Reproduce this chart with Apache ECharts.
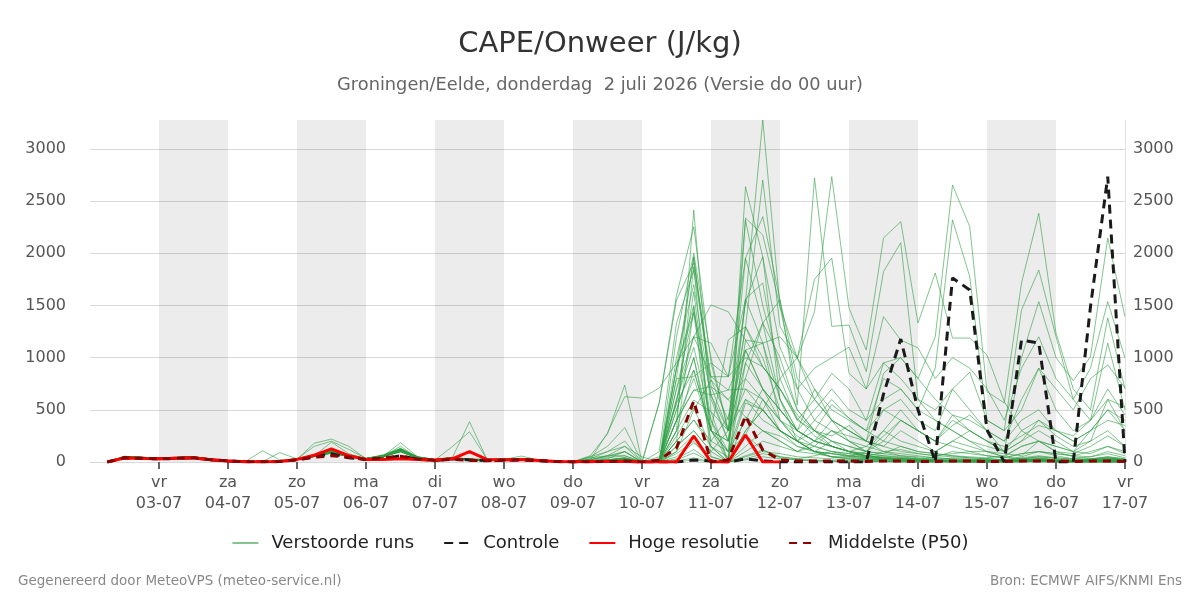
<!DOCTYPE html>
<html><head><meta charset="utf-8">
<script src="https://cdn.jsdelivr.net/npm/echarts@6/dist/echarts.min.js"></script>
<style>html,body{margin:0;padding:0;background:#fff}#chart{width:1200px;height:600px}</style>
</head><body><div id="chart"></div>
<script>
// Tick labels (one per day, 02-07 .. 17-07)
const tickDays  = ['do','vr','za','zo','ma','di','wo','do','vr','za','zo','ma','di','wo','do','vr'];
const tickDates = ['02-07','03-07','04-07','05-07','06-07','07-07','08-07','09-07','10-07','11-07','12-07','13-07','14-07','15-07','16-07','17-07'];
// Shaded days (index into tickDates)
const shadedDays = [1,3,5,7,9,11,13];
// Forecast valid times: hours after 02-07 00:00, every 6 h from 02-07 06:00
const leadHours = Array.from({length:60},(_,i)=>6+6*i);

// Perturbed ensemble runs (J/kg), grouped per day
const runs = [
[0,50,42, 38,42,48,26, 12,4,3,6, 28,60,100,70, 32,60,110,45, 22,40,25,20, 28,32,20,5, 2,20,280,626, 613,709,950,1200, 1505,1440,1169,913, 700,420,250,150, 100,60,40,30, 20,10,10,20, 30,20,10,30, 20,10,20,30, 20],
[0,45,38, 32,38,44,22, 12,3,108,20, 25,70,110,60, 30,55,95,40, 20,35,20,18, 25,30,20,5, 2,60,270,738, 0,0,300,2415, 482,0,2639,1968, 600,200,100,50, 30,20,10,0, 0,0,0,0, 0,0,0,20, 10,0,0,0, 0],
[0,55,45, 40,42,50,28, 15,5,4,90, 30,150,200,120, 35,70,130,50, 25,45,30,22, 30,35,22,6, 3,50,150,330, 0,570,1600,2255, 949,300,1297,2703, 1300,997,1440,2735, 1476,1073,2147,2303, 1332,1812,1188,1188, 1025,580,300,200, 100,50,30,50, 30],
[0,48,40, 36,40,46,25, 12,4,2,5, 25,180,220,150, 30,60,100,40, 20,38,22,20, 25,30,20,5, 2,30,100,200, 0,0,800,1968, 722,300,1955,2351, 1553,546,2722,1300, 1313,866,1824,2102, 600,400,300,200, 100,50,30,20, 10,20,30,50, 30],
[0,52,44, 38,44,50,26, 14,5,3,6, 26,60,190,80, 32,58,185,50, 22,40,24,20, 26,32,20,5, 2,40,60,150, 0,0,565,1632, 300,100,1562,1716, 800,400,600,850, 700,400,950,1000, 800,1200,2655,2255, 674,566,1715,2384, 1236,700,500,1380, 700],
[0,46,40, 34,40,45,24, 12,4,2,5, 24,55,90,55, 30,55,150,40, 20,147,290,30, 25,30,18,5, 2,10,30,100, 0,0,400,1872, 147,0,1169,1140, 400,200,300,550, 420,300,800,700, 500,900,2320,1776, 400,300,1457,1840, 1201,600,400,1140, 500],
[0,44,38, 34,38,44,24, 12,3,2,5, 24,55,95,55, 28,52,130,42, 20,40,386,30, 25,57,20,5, 2,20,60,60, 0,0,200,1489, 51,0,949,1332, 600,300,200,400, 300,200,500,600, 400,300,700,500, 300,100,1000,1537, 1000,780,1009,2147, 1393],
[0,50,40, 36,40,46,26, 12,4,3,5, 26,60,100,60, 30,60,120,45, 22,40,26,20, 28,30,20,6, 3,10,20,40, 0,570,1553,1907, 818,690,1073,1140, 600,300,700,400, 200,100,300,500, 300,200,400,300, 200,100,200,300, 200,100,300,500, 300],
[0,47,41, 35,41,47,25, 13,4,3,6, 27,58,105,62, 31,57,115,44, 21,39,23,19, 27,31,19,5, 2,15,40,60, 0,100,1332,1840, 786,400,1537,1968, 1100,700,900,1000, 1100,700,1393,1169, 1093,800,1000,900, 700,400,900,1200, 800,600,900,1537, 997],
[0,53,43, 37,43,49,27, 14,5,4,6, 27,62,105,65, 33,62,125,47, 23,42,27,21, 27,33,21,6, 3,25,50,100, 0,0,900,1440, 642,300,2339,2176, 1489,700,400,300, 200,150,100,60, 40,30,20,10, 10,20,50,100, 60,30,20,40, 20],
[0,49,41, 35,41,47,25, 13,4,3,5, 25,58,98,58, 31,58,112,43, 21,39,24,19, 26,31,19,5, 2,10,20,30, 0,0,600,1201, 1140,818,1955,1332, 1000,500,300,200, 150,100,80,60, 50,40,30,20, 20,10,30,40, 20,10,10,20, 10],
[0,46,39, 34,39,45,23, 12,3,2,5, 24,56,92,56, 29,56,108,41, 20,37,22,18, 25,29,18,4, 2,8,20,40, 0,50,565,882, 300,1169,1297,913, 700,450,300,150, 100,80,60,50, 30,20,20,10, 10,10,20,30, 20,10,20,40, 20],
[0,51,43, 37,43,48,26, 13,4,3,6, 27,60,102,62, 32,60,118,44, 22,41,25,20, 27,32,20,5, 2,5,10,20, 0,0,800,818, 949,818,1562,1140, 1200,997,1750,1955, 850,700,950,800, 600,500,700,860, 400,300,500,900, 700,500,800,930, 709],
[0,45,39, 33,39,44,23, 12,3,2,4, 23,54,88,54, 29,54,105,40, 19,36,21,18, 24,29,18,4, 1,5,10,20, 0,0,400,690, 722,600,800,1332, 1553,800,600,400, 300,200,100,80, 60,40,30,20, 20,10,10,20, 10,10,10,20, 10],
[0,48,42, 36,42,46,25, 13,4,3,5, 25,57,96,57, 30,57,110,43, 21,38,23,19, 26,30,19,5, 2,5,15,30, 0,0,300,594, 482,300,949,700, 500,300,200,150, 100,60,40,30, 20,20,10,10, 10,10,20,20, 10,10,20,30, 20],
[0,50,42, 36,42,47,25, 13,4,3,5, 26,58,100,60, 31,58,115,44, 21,39,24,19, 26,31,20,5, 2,5,10,20, 0,0,700,1428, 307,0,434,300, 200,100,80,50, 40,30,20,10, 10,10,10,0, 0,10,20,10, 10,0,0,10, 0],
[0,44,38, 33,38,43,22, 11,3,2,4, 22,52,85,52, 28,52,100,38, 18,35,20,17, 23,28,17,4, 1,5,10,10, 0,0,200,403, 147,0,2320,1500, 900,500,300,200, 100,50,30,20, 10,10,0,0, 0,0,10,20, 10,0,0,0, 0],
[0,52,44, 38,44,49,27, 14,5,3,6, 27,61,104,63, 33,61,120,46, 22,41,26,20, 27,33,21,6, 3,10,20,40, 0,0,900,1955, 642,200,1537,3278, 1489,997,600,400, 300,200,150,100, 80,60,50,40, 30,20,30,50, 40,30,20,30, 20],
[0,47,40, 35,40,46,24, 12,4,2,5, 24,56,94,56, 30,56,108,42, 20,37,22,18, 25,30,18,5, 2,8,15,30, 0,0,500,1000, 300,200,1073,700, 400,200,100,80, 60,40,30,20, 10,10,10,10, 10,20,20,30, 20,10,10,20, 10],
[0,50,41, 36,41,46,25, 12,4,3,5, 25,58,98,58, 31,58,112,43, 21,38,23,19, 26,31,19,5, 2,5,10,20, 0,0,250,518, 147,50,565,500, 300,150,100,50, 30,20,10,10, 0,0,0,0, 0,0,0,10, 0,0,0,0, 0],
[0,46,40, 34,40,45,24, 12,3,2,5, 24,55,90,55, 30,55,105,41, 20,37,22,18, 25,29,18,5, 2,5,10,10, 0,0,100,259, 19,0,300,500, 300,200,400,600, 420,300,500,400, 300,200,450,300, 200,100,300,400, 250,150,200,600, 530],
[0,49,42, 36,41,47,25, 13,4,3,5, 25,57,97,57, 31,57,112,43, 21,38,24,19, 26,31,19,5, 2,5,10,15, 0,0,50,182, 51,0,259,115, 50,30,20,10, 10,10,0,0, 0,0,0,0, 0,0,0,0, 0,0,0,0, 0],
[0,51,42, 37,42,48,26, 13,4,3,6, 26,59,101,61, 32,59,116,44, 22,40,25,20, 27,32,20,5, 2,5,8,15, 0,0,20,86, 0,0,150,300, 200,100,150,300, 200,100,250,400, 300,200,350,450, 300,200,400,500, 300,250,400,700, 450],
[0,45,38, 33,38,43,22, 11,3,2,4, 22,52,86,52, 28,52,100,38, 18,35,20,17, 23,28,17,4, 1,3,5,10, 0,0,0,20, 0,0,50,100, 80,50,40,30, 20,20,30,40, 30,20,40,30, 20,10,20,30, 20,10,30,40, 20],
[0,48,40, 35,40,46,24, 12,4,3,5, 25,57,96,57, 30,57,110,42, 21,38,23,19, 26,30,19,5, 2,5,10,30, 0,0,700,1201, 818,818,1000,913, 700,400,300,250, 350,200,850,1000, 800,600,450,400, 300,200,600,900, 500,300,400,600, 300],
[0,50,43, 37,43,48,26, 13,4,3,6, 26,60,102,62, 32,60,118,45, 22,40,25,20, 27,32,20,5, 2,5,10,20, 0,0,400,690, 642,690,700,500, 800,1000,700,500, 400,300,200,400, 300,200,150,100, 100,80,60,200, 150,100,200,300, 150],
[0,47,40, 34,40,45,24, 12,3,2,5, 24,55,92,55, 30,55,107,41, 20,37,22,18, 25,29,18,4, 2,5,8,10, 0,0,100,498, 786,594,434,300, 250,150,100,200, 150,100,80,150, 100,80,60,40, 30,20,40,60, 40,30,50,100, 60],
[0,53,44, 38,44,50,27, 14,5,3,6, 27,62,106,64, 33,62,122,47, 23,42,27,21, 28,33,21,6, 3,8,15,25, 0,0,300,882, 300,200,800,600, 400,250,150,100, 80,60,50,30, 20,10,10,10, 10,10,10,20, 10,10,10,20, 10],
[0,46,39, 34,39,45,23, 12,3,2,5, 23,54,90,54, 29,54,104,40, 19,36,21,18, 24,29,18,4, 1,4,8,12, 0,0,30,120, 0,0,60,115, 40,20,10,10, 0,0,0,0, 0,0,0,0, 0,0,0,0, 0,0,0,0, 0],
[0,49,41, 35,41,47,25, 13,4,3,5, 25,58,98,58, 31,58,113,43, 21,38,24,19, 26,31,19,5, 2,5,10,20, 0,0,600,1100, 400,0,300,500, 300,200,100,50, 50,100,200,150, 100,80,60,50, 40,60,150,200, 150,100,80,150, 100],
[0,48,41, 35,41,46,25, 12,4,3,5, 25,57,96,57, 30,57,110,42, 21,38,23,19, 26,30,19,5, 2,50,100,150, 50,0,150,300, 100,300,600,400, 300,200,150,100, 60,40,30,20, 10,10,10,10, 10,10,20,20, 10,10,10,20, 10],
[0,51,43, 37,43,48,26, 13,4,3,6, 26,60,103,62, 32,60,118,45, 22,40,25,20, 27,32,20,5, 2,20,60,100, 0,0,200,403, 200,434,1073,700, 500,300,200,150, 100,150,300,200, 150,100,200,300, 200,150,250,350, 300,200,300,400, 350],
[0,45,39, 33,39,44,23, 11,3,2,4, 23,53,87,53, 29,53,102,39, 19,36,21,17, 24,28,17,4, 1,3,5,10, 0,0,500,1000, 200,100,259,600, 300,200,100,80, 60,50,40,30, 20,50,100,80, 60,40,80,100, 80,60,50,80, 40],
[0,50,42, 36,42,47,25, 13,4,3,5, 26,59,100,60, 31,59,115,44, 21,39,24,19, 26,31,20,5, 2,5,10,15, 0,0,150,300, 100,0,100,200, 150,100,200,300, 250,200,150,300, 200,100,200,150, 100,50,150,200, 100,80,150,250, 150],
[0,47,40, 34,40,45,24, 12,4,2,5, 24,56,93,56, 30,56,106,41, 20,37,22,18, 25,30,18,5, 2,4,8,10, 0,0,80,200, 0,0,20,50, 30,20,10,10, 0,0,10,0, 0,0,10,0, 0,0,10,0, 0,0,10,0, 0],
[0,52,43, 37,43,49,26, 14,5,3,6, 27,61,104,63, 32,61,120,46, 22,41,26,20, 27,33,21,6, 3,6,10,15, 0,0,1000,1700, 600,200,1297,1000, 500,300,200,150, 100,80,60,40, 30,20,10,10, 10,20,30,50, 30,20,10,20, 10],
[0,46,39, 34,39,44,23, 12,3,2,5, 23,54,89,54, 29,54,103,40, 19,36,21,18, 24,29,18,4, 1,4,8,12, 0,0,1200,2000, 1000,300,700,600, 400,300,200,150, 100,60,40,30, 20,10,10,0, 0,10,20,10, 10,0,10,0, 0],
[0,49,41, 35,41,47,25, 13,4,3,5, 25,58,99,59, 31,58,114,43, 21,38,24,19, 26,31,19,5, 2,5,10,15, 0,0,900,1500, 400,100,600,500, 300,200,100,80, 50,30,20,10, 10,10,0,0, 0,0,0,10, 0,0,0,0, 0],
[0,44,38, 33,38,43,22, 11,3,2,4, 22,52,85,52, 28,52,100,38, 18,35,20,17, 23,28,17,4, 1,3,5,8, 0,0,10,40, 0,0,30,80, 50,30,60,100, 80,50,100,120, 80,60,80,100, 60,40,80,100, 80,60,100,150, 80],
[0,53,45, 39,45,50,28, 14,5,4,6, 28,63,108,65, 34,63,125,48, 23,43,28,22, 28,34,22,6, 3,10,20,30, 0,0,400,800, 300,100,400,700, 500,300,500,700, 500,400,600,700, 500,400,300,200, 150,100,200,400, 300,200,300,500, 400]
];

// Control run
const control = [0,40,35, 30,35,40,20, 10,3,2,5, 20,50,80,40, 25,30,60,25, 15,30,20,15, 15,20,12,4, 1,2,5,5, 0,0,0,20, 10,0,30,10, 0,0,0,0, 0,0,650,1179, 500,0,1764,1649, 307,0,1169,1141, 0,0,1490,2735, 0];
// High resolution run (to 12-07 00 UTC)
const hres = [0,38,33, 32,36,40,22, 10,3,2,5, 25,65,125,60, 25,25,30,25, 20,30,100,25, 20,25,15,5, 2,5,5,5, 0,0,0,249, 0,0,259,0, 0];
// Median of the ensemble
const p50 = [0,40,35, 30,35,40,22, 10,3,2,4, 22,45,60,45, 25,40,55,30, 15,25,15,12, 18,22,15,4, 1,2,5,10, 0,20,134,585, 0,20,441,115, 20,10,10,10, 10,5,10,10, 5,5,10,10, 5,5,10,10, 10,5,10,10, 5];

const FONT = 'DejaVu Sans';
const toXY = arr => arr.map((v,i)=>[leadHours[i], v]);
let yMax = 0;
[...runs, control, hres, p50].forEach(a=>a.forEach(v=>{ if (v>yMax) yMax=v; }));

const series = [];
series.push({
  type:'line', data:[[0,0],[360,0]], silent:true, symbol:'none',
  lineStyle:{width:0, opacity:0}, z:1,
  markArea:{silent:true, itemStyle:{color:'rgba(0,0,0,0.075)'},
    data: shadedDays.map(d=>[{xAxis:d*24},{xAxis:(d+1)*24}])}
});
runs.forEach(r=>series.push({
  name:'Verstoorde runs', type:'line', data:toXY(r), symbol:'none', silent:true,
  lineStyle:{width:1, color:'#2f9e44', opacity:0.6}, itemStyle:{color:'#2f9e44'}, z:2
}));
series.push({name:'Controle', type:'line', data:toXY(control), symbol:'none', silent:true,
  lineStyle:{width:3, color:'#1a1a1a', type:[9,6]}, itemStyle:{color:'#1a1a1a'}, z:4});
series.push({name:'Hoge resolutie', type:'line', data:toXY(hres), symbol:'none', silent:true,
  lineStyle:{width:3, color:'#ff0000'}, itemStyle:{color:'#ff0000'}, z:5});
series.push({name:'Middelste (P50)', type:'line', data:toXY(p50), symbol:'none', silent:true,
  lineStyle:{width:3, color:'#8b0000', type:[8,6]}, itemStyle:{color:'#8b0000'}, z:6});

const yLabel = v => (v % 500 === 0 ? String(v) : '');
const chart = echarts.init(document.getElementById('chart'), null, {renderer:'canvas'});
chart.setOption({
  animation:false,
  backgroundColor:'#ffffff',
  textStyle:{fontFamily:FONT},
  title:[
    {text:'CAPE/Onweer (J/kg)', left:'center', top:25, textStyle:{fontFamily:FONT, fontSize:29, fontWeight:'normal', color:'#333'}},
    {text:'Groningen/Eelde, donderdag  2 juli 2026 (Versie do 00 uur)', left:'center', top:71, textStyle:{fontFamily:FONT, fontSize:17.8, fontWeight:'normal', color:'#666'}},
    {text:'Gegenereerd door MeteoVPS (meteo-service.nl)', left:13, top:569, textStyle:{fontFamily:FONT, fontSize:13.5, fontWeight:'normal', color:'#888'}},
    {text:'Bron: ECMWF AIFS/KNMI Ens', right:13, top:569, textStyle:{fontFamily:FONT, fontSize:13.5, fontWeight:'normal', color:'#888'}}
  ],
  legend:{
    top:529, left:'center', itemWidth:26, itemHeight:12, itemGap:29,
    itemStyle:{opacity:0},
    textStyle:{fontFamily:FONT, fontSize:18, color:'#222', padding:[0,0,0,8]},
    data:['Verstoorde runs','Controle','Hoge resolutie','Middelste (P50)']
  },
  grid:{left:90, right:75, top:120, bottom:138, containLabel:false},
  xAxis:{
    type:'value', min:0, max:360, interval:24,
    axisLine:{show:true, lineStyle:{color:'#d9d9d9'}},
    axisTick:{show:true, length:7, lineStyle:{color:'#666', width:2}},
    splitLine:{show:false},
    axisLabel:{fontFamily:FONT, fontSize:16, color:'#555', lineHeight:21, margin:10, showMinLabel:false,
      formatter: v => { const d = Math.round(v/24); return d===0 ? '' : tickDays[d] + '\n' + tickDates[d]; }}
  },
  yAxis:[
    {type:'value', min:0, max:yMax, interval:500, position:'left',
     axisLine:{show:false}, axisTick:{show:false},
     splitLine:{show:true, showMaxLine:false, lineStyle:{color:'#d9d9d9'}},
     axisLabel:{fontFamily:FONT, fontSize:16, color:'#555', margin:24, showMaxLabel:false, formatter:yLabel}},
    {type:'value', min:0, max:yMax, interval:500, position:'right',
     axisLine:{show:true, lineStyle:{color:'#e3e3e3'}}, axisTick:{show:false},
     splitLine:{show:false},
     axisLabel:{fontFamily:FONT, fontSize:16, color:'#555', margin:8, showMaxLabel:false, formatter:yLabel}}
  ],
  series: series
});
</script>
</body></html>
